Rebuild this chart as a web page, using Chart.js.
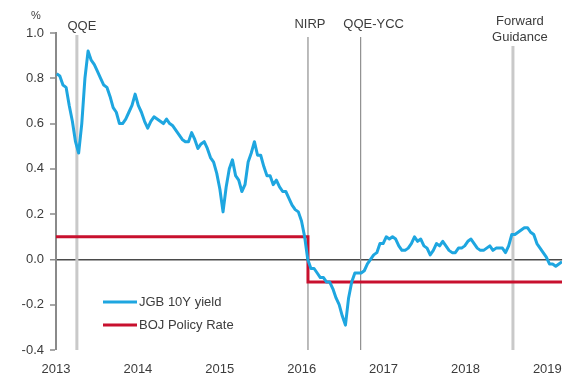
<!DOCTYPE html>
<html>
<head>
<meta charset="utf-8">
<script src="https://cdn.jsdelivr.net/npm/chart.js@4.4.1/dist/chart.umd.min.js"></script>
<style>
  html, body { margin: 0; padding: 0; background: #fff; }
  canvas { display: block; }
</style>
</head>
<body>
<canvas id="c" width="574" height="380"></canvas>
<script>
// JGB 10-year yield, fortnightly observations starting 4 Jan 2013 (%)
const yieldStart = 2013 + 3 / 365.25;
const yieldStepDays = 14;
const yieldValues = [
  0.82, 0.81, 0.77, 0.76, 0.68, 0.61, 0.52, 0.47, 0.60, 0.80,
  0.92, 0.88, 0.86, 0.83, 0.80, 0.77, 0.76, 0.72, 0.67, 0.65,
  0.60, 0.60, 0.62, 0.65, 0.68, 0.73, 0.68, 0.65, 0.61, 0.58,
  0.61, 0.63, 0.62, 0.61, 0.60, 0.62, 0.60, 0.59, 0.57, 0.55,
  0.53, 0.52, 0.52, 0.56, 0.53, 0.49, 0.51, 0.52, 0.49, 0.45,
  0.43, 0.38, 0.31, 0.21, 0.32, 0.40, 0.44, 0.37, 0.35, 0.30,
  0.33, 0.43, 0.47, 0.52, 0.46, 0.46, 0.41, 0.37, 0.37, 0.33,
  0.35, 0.32, 0.30, 0.30, 0.27, 0.24, 0.22, 0.21, 0.17, 0.10,
  0.00, -0.04, -0.04, -0.06, -0.08, -0.08, -0.10, -0.10, -0.13, -0.17,
  -0.20, -0.25, -0.29, -0.17, -0.10, -0.06, -0.06, -0.06, -0.05, -0.02,
  0.00, 0.02, 0.03, 0.07, 0.07, 0.10, 0.09, 0.10, 0.09, 0.06,
  0.04, 0.04, 0.05, 0.07, 0.10, 0.08, 0.09, 0.06, 0.05, 0.02,
  0.04, 0.07, 0.06, 0.08, 0.06, 0.04, 0.03, 0.03, 0.05, 0.05,
  0.06, 0.08, 0.09, 0.07, 0.05, 0.04, 0.04, 0.05, 0.06, 0.04,
  0.05, 0.05, 0.05, 0.03, 0.06, 0.11, 0.11, 0.12, 0.13, 0.14,
  0.14, 0.12, 0.11, 0.07, 0.05, 0.03, 0.01, -0.02, -0.02, -0.03,
  -0.02, -0.01
];

// BOJ policy rate (%), by effective date as decimal year
const policyDates = [2013.0, 2016.077, 2019.18];
const policyValues = [0.10, -0.10, -0.10];

// Axes
const yearTicks = [2013, 2014, 2015, 2016, 2017, 2018, 2019];
const valueTicks = [-0.4, -0.2, 0.0, 0.2, 0.4, 0.6, 0.8, 1.0];

// Policy events marked on the chart
const eventNames = [['QQE'], ['NIRP'], ['QQE-YCC'], ['Forward', 'Guidance']];
const eventDates = [2013.255, 2016.077, 2016.72, 2018.58];

const seriesNames = ['JGB 10Y yield', 'BOJ Policy Rate'];

// ---- drawing styles ----
const FONT = '"Liberation Sans", Arial, sans-serif';
const TEXT = '#3c3c3c';
const BLUE = '#1ea6e0';
const RED = '#c8102e';
const eventStyle = [
  { color: '#c9c9c9', width: 3,   top: 35, dx: 5,  y: [26] },
  { color: '#8f8f8f', width: 1.2, top: 37, dx: 2,  y: [24] },
  { color: '#8f8f8f', width: 1.2, top: 37, dx: 13, y: [24] },
  { color: '#c9c9c9', width: 3,   top: 46, dx: 7,  y: [21, 37] }
];

const yieldPoints = yieldValues.map((v, i) => ({ x: yieldStart + i * yieldStepDays / 365.25, y: v }));
const policyPoints = policyValues.map((v, i) => ({ x: policyDates[i], y: v }));

const eventPlugin = {
  id: 'events',
  beforeDatasetsDraw(chart) {
    const { ctx, chartArea, scales } = chart;
    ctx.save();
    eventDates.forEach((d, i) => {
      const st = eventStyle[i];
      const x = scales.x.getPixelForValue(d);
      ctx.strokeStyle = st.color;
      ctx.lineWidth = st.width;
      ctx.beginPath();
      ctx.moveTo(x, st.top);
      ctx.lineTo(x, chartArea.bottom);
      ctx.stroke();
    });
    ctx.restore();
  },
  afterDraw(chart) {
    const { ctx, scales } = chart;
    ctx.save();
    ctx.fillStyle = TEXT;
    ctx.font = '13px ' + FONT;
    ctx.textAlign = 'center';
    ctx.textBaseline = 'middle';
    eventDates.forEach((d, i) => {
      const st = eventStyle[i];
      const x = scales.x.getPixelForValue(d) + st.dx;
      eventNames[i].forEach((line, j) => ctx.fillText(line, x, st.y[j]));
    });
    // unit label above the value axis
    ctx.font = '11px ' + FONT;
    ctx.fillText('%', 36, 16);
    ctx.restore();
  }
};

const legendPlugin = {
  id: 'innerLegend',
  afterDraw(chart) {
    const { ctx } = chart;
    ctx.save();
    ctx.font = '13px ' + FONT;
    ctx.textBaseline = 'middle';
    ctx.textAlign = 'left';
    chart.data.datasets.forEach((ds, i) => {
      const y = 302 + i * 23;
      ctx.strokeStyle = ds.borderColor;
      ctx.lineWidth = 3;
      ctx.beginPath();
      ctx.moveTo(103, y);
      ctx.lineTo(137, y);
      ctx.stroke();
      ctx.fillStyle = TEXT;
      ctx.fillText(ds.label, 139, y);
    });
    ctx.restore();
  }
};

new Chart(document.getElementById('c'), {
  type: 'line',
  data: {
    datasets: [
      { label: seriesNames[0], data: yieldPoints, borderColor: BLUE, borderWidth: 3,
        pointRadius: 0, tension: 0, borderJoinStyle: 'round' },
      { label: seriesNames[1], data: policyPoints, borderColor: RED, borderWidth: 3,
        pointRadius: 0, stepped: 'before' }
    ]
  },
  options: {
    responsive: false,
    animation: false,
    devicePixelRatio: 1,
    layout: { padding: { left: 0, top: 33, right: 7, bottom: 0 } },
    plugins: { legend: { display: false }, tooltip: { enabled: false } },
    scales: {
      x: {
        type: 'linear',
        min: 2013,
        max: 2019.18,
        afterBuildTicks: s => { s.ticks = yearTicks.map(v => ({ value: v })); },
        afterFit: s => { s.height = 30; },
        grid: { display: false, drawTicks: false },
        border: { display: false },
        ticks: { padding: 12, maxRotation: 0, autoSkip: false, color: TEXT,
                 font: { family: FONT, size: 13 }, callback: v => String(v) }
      },
      y: {
        min: -0.4,
        max: 1.0,
        afterBuildTicks: s => { s.ticks = valueTicks.map(v => ({ value: v })); },
        afterFit: s => { s.width = 56; },
        grid: {
          drawOnChartArea: true,
          drawTicks: true,
          tickLength: 6,
          tickColor: '#8a8a8a',
          tickWidth: 1.5,
          color: c => (c.tick && Math.abs(c.tick.value) < 1e-9 ? '#4a4a4a' : 'rgba(0,0,0,0)'),
          lineWidth: c => (c.tick && Math.abs(c.tick.value) < 1e-9 ? 1.5 : 0)
        },
        border: { display: true, color: '#8a8a8a', width: 2 },
        ticks: { padding: 6, color: TEXT, font: { family: FONT, size: 13 },
                 callback: v => Number(v).toFixed(1) }
      }
    }
  },
  plugins: [eventPlugin, legendPlugin]
});
</script>
</body>
</html>
